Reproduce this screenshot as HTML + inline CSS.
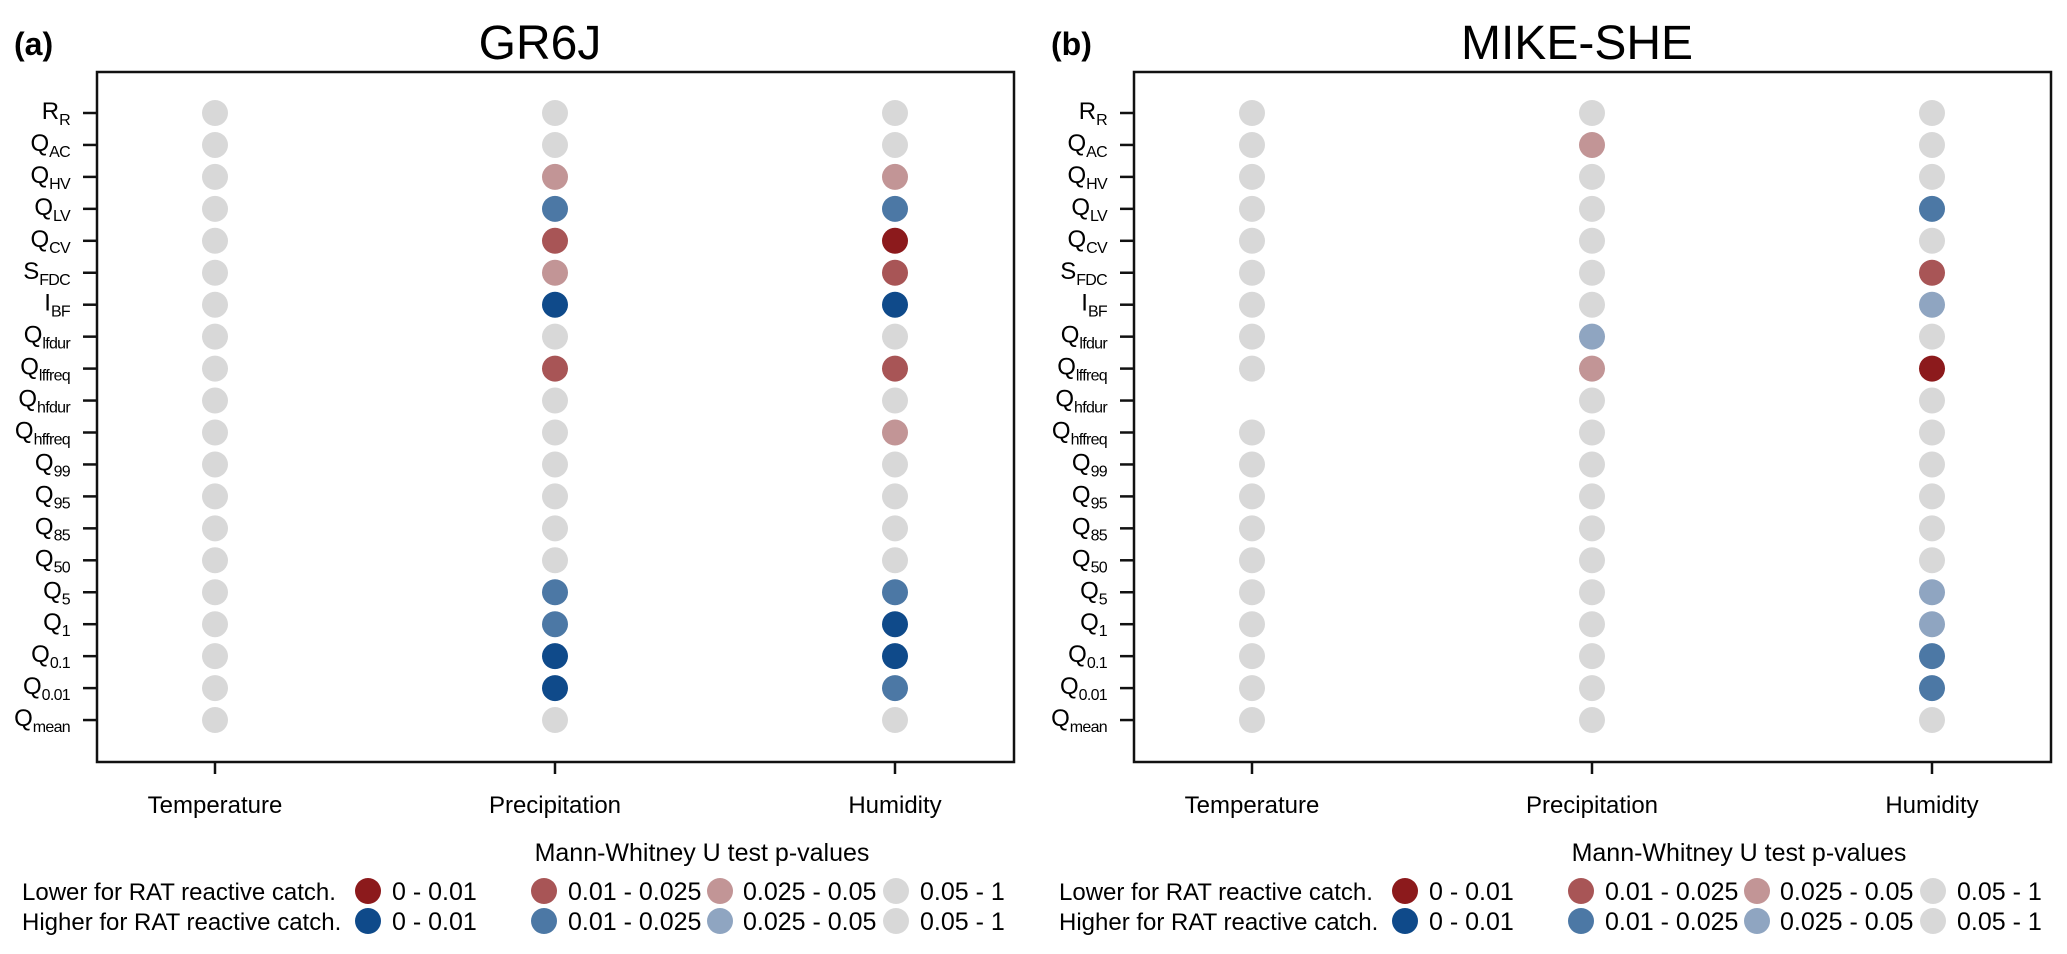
<!DOCTYPE html>
<html><head><meta charset="utf-8"><style>
html,body{margin:0;padding:0;background:#fff;}
svg{display:block;font-family:"Liberation Sans",Arial,sans-serif;}
</style></head><body>
<svg id="fig" width="2067" height="954" viewBox="0 0 2067 954" xmlns="http://www.w3.org/2000/svg"></svg>
<script>
const rowMain=["R","Q","Q","Q","Q","S","I","Q","Q","Q","Q","Q","Q","Q","Q","Q","Q","Q","Q","Q"];
const rowSub=["R","AC","HV","LV","CV","FDC","BF","lfdur","lffreq","hfdur","hffreq","99","95","85","50","5","1","0.1","0.01","mean"];
const columns=["Temperature","Precipitation","Humidity"];
// codes: 0 = 0.05-1, 1/2/3 lower (red) 0-0.01 / 0.01-0.025 / 0.025-0.05, negatives = higher (blue), null = no value
const gr6jTemp=[0,0,0,0,0,0,0,0,0,0,0,0,0,0,0,0,0,0,0,0];
const gr6jPrec=[0,0,3,-2,2,3,-1,0,2,0,0,0,0,0,0,-2,-2,-1,-1,0];
const gr6jHum=[0,0,3,-2,1,2,-1,0,2,0,3,0,0,0,0,-2,-1,-1,-2,0];
const mikeTemp=[0,0,0,0,0,0,0,0,0,null,0,0,0,0,0,0,0,0,0,0];
const mikePrec=[0,3,0,0,0,0,0,-3,3,0,0,0,0,0,0,0,0,0,0,0];
const mikeHum=[0,0,0,-2,0,2,-3,0,1,0,0,0,0,0,0,-3,-3,-2,-2,0];
const panelTitles=["GR6J","MIKE-SHE"];
const panelLetters=["(a)","(b)"];
const legendLabels=["0 - 0.01","0.01 - 0.025","0.025 - 0.05","0.05 - 1"];

const colorOf={"1":"#8c1a1c","2":"#a85556","3":"#c29596","-1":"#0f4a8a","-2":"#4c78a5","-3":"#8fa5c1","0":"#d8d8d8"};
const NS="http://www.w3.org/2000/svg";
const svg=document.getElementById("fig");
function mk(tag,attrs,parent){const e=document.createElementNS(NS,tag);for(const k in attrs)e.setAttribute(k,attrs[k]);(parent||svg).appendChild(e);return e;}

const panels=[[gr6jTemp,gr6jPrec,gr6jHum],[mikeTemp,mikePrec,mikeHum]];
const yRow=i=>113+i*31.95;
panels.forEach((cols,p)=>{
  const off=p*1037;
  const g=mk("g",{});
  
  
  const xCol=j=>215+off+j*340;
  const L=97+off,R=1014+off,T=72,B=762;
  const letter=mk("text",{x:14+off,y:55,"font-size":32,"font-weight":"bold"},g);letter.textContent=panelLetters[p];
  
  
  const title=mk("text",{x:540+off,y:59,"font-size":48,"text-anchor":"middle"},g);title.textContent=panelTitles[p];
  
  
  const box=mk("rect",{x:L,y:T,width:R-L,height:B-T,fill:"none",stroke:"#111","stroke-width":2.5},g);
  
  
  rowMain.forEach((m,i)=>{
    const y=yRow(i);
    const tk=mk("line",{x1:L-14,x2:L,y1:y,y2:y,stroke:"#111","stroke-width":2.5},g);
    
    
    const t=mk("text",{x:70+off,y:y+6,"font-size":24,"text-anchor":"end"},g);
    
    
    const a=mk("tspan",{},t);a.textContent=m;
    const b=mk("tspan",{dy:6,"font-size":16,"letter-spacing":"-0.7"},t);b.textContent=rowSub[i];
  });
  columns.forEach((c,j)=>{
    const x=xCol(j);
    const tk=mk("line",{x1:x,x2:x,y1:B,y2:B+12,stroke:"#111","stroke-width":2.5},g);
    
    
    const t=mk("text",{x:x,y:813,"font-size":24,"text-anchor":"middle"},g);t.textContent=c;
    
    
    cols[j].forEach((v,i)=>{
      if(v===null)return;
      const d=mk("circle",{cx:x,cy:yRow(i),r:13,fill:colorOf[String(v)]},g);
      
      
    });
  });
  const lt=mk("text",{x:702+off,y:861,"font-size":25,"text-anchor":"middle"},g);lt.textContent="Mann-Whitney U test p-values";
  
  
  const rowsY=[891,921];
  const rowNames=["Lower for RAT reactive catch.","Higher for RAT reactive catch."];
  const dotX=[368,544,720,896],txtX=[392,568,743,920];
  rowsY.forEach((y,r)=>{
    const rl=mk("text",{x:22+off,y:y+9,"font-size":24},g);rl.textContent=rowNames[r];
    
    
    legendLabels.forEach((lab,k)=>{
      const code=k===3?0:(r===0?1:-1)*(k+1);
      const c=mk("circle",{cx:dotX[k]+off,cy:y,r:13,fill:colorOf[String(code)]},g);
      
      
      const t=mk("text",{x:txtX[k]+off,y:y+9,"font-size":25},g);t.textContent=lab;
      
      
    });
  });
});
</script>
</body></html>
